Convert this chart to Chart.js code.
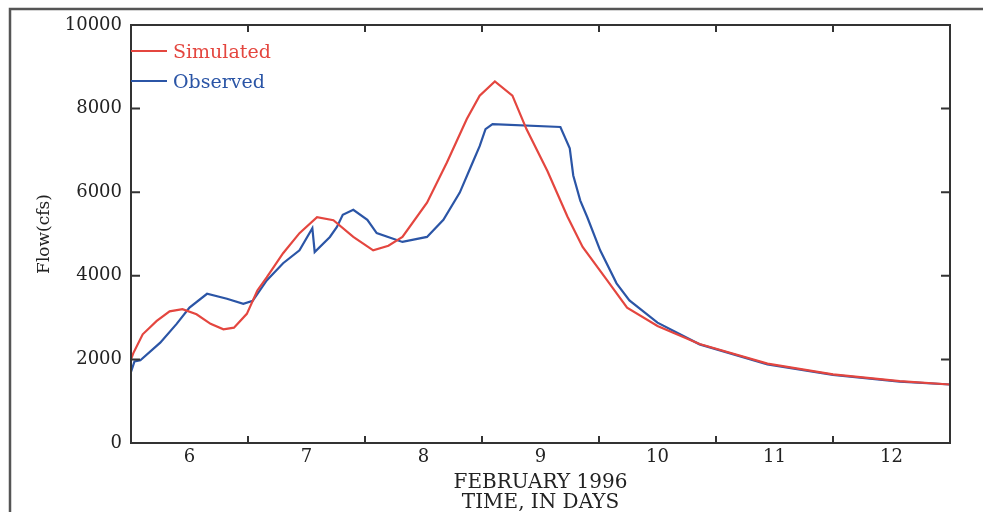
<!DOCTYPE html>
<html>
<head>
<meta charset="utf-8">
<script src="https://cdn.jsdelivr.net/npm/chart.js@4.4.1/dist/chart.umd.min.js"></script>
<style>
  body { margin: 0; background: #fff; }
  #wrap { width: 983px; height: 512px; position: relative; }
</style>
</head>
<body>
<div id="wrap"><canvas id="flowChart"></canvas></div>
<script>
// datos (dia de febrero 1996, caudal en cfs)
const simDays = [6.00, 6.02, 6.10, 6.22, 6.33, 6.44, 6.56, 6.68, 6.79, 6.88, 6.99, 7.08, 7.16, 7.30, 7.44, 7.59, 7.73, 7.90, 8.07, 8.20, 8.32, 8.53, 8.70, 8.87, 8.98, 9.11, 9.26, 9.38, 9.56, 9.73, 9.86, 10.07, 10.24, 10.50, 10.86, 11.44, 12.00, 12.57, 13.00]
const simFlow = [2000, 2150, 2600, 2920, 3150, 3200, 3080, 2850, 2720, 2760, 3090, 3650, 3960, 4540, 5020, 5400, 5330, 4930, 4610, 4720, 4930, 5750, 6710, 7750, 8310, 8650, 8310, 7510, 6500, 5420, 4690, 3890, 3240, 2800, 2370, 1900, 1640, 1480, 1400]

const obsDays = [6.00, 6.03, 6.08, 6.25, 6.39, 6.50, 6.65, 6.82, 6.96, 7.04, 7.16, 7.30, 7.44, 7.55, 7.57, 7.70, 7.76, 7.81, 7.90, 8.02, 8.10, 8.32, 8.53, 8.67, 8.81, 8.92, 8.98, 9.03, 9.09, 9.67, 9.75, 9.78, 9.84, 9.90, 10.01, 10.15, 10.26, 10.50, 10.86, 11.44, 12.00, 12.57, 13.00]
const obsFlow = [1700, 1950, 1980, 2400, 2850, 3240, 3570, 3450, 3330, 3400, 3890, 4300, 4610, 5140, 4570, 4930, 5170, 5460, 5580, 5340, 5020, 4810, 4930, 5340, 5990, 6710, 7100, 7510, 7630, 7560, 7050, 6400, 5800, 5400, 4610, 3820, 3410, 2880, 2360, 1880, 1630, 1470, 1400]

const xTickLabels = ['6', '7', '8', '9', '10', '11', '12']
const yTicks = [0, 2000, 4000, 6000, 8000, 10000]
const seriesNames = ['Simulated', 'Observed']
const seriesColors = ['#e4463f', '#2b55a6']

const FONT = "'DejaVu Serif', serif"
const INK = '#222'

// juntamos dias y caudales en puntos
function toPoints(days, flow) {
    let pts = []
    for (let i = 0; i < days.length; i++) {
        pts.push({ x: days[i], y: flow[i] })
    }
    return pts
}

// caja del grafico, marcas hacia adentro, leyenda y marco exterior
const framePlugin = {
    id: 'frame',
    afterDraw(chart) {
        const ctx = chart.ctx
        const a = chart.chartArea
        const xs = chart.scales.x, ys = chart.scales.y
        ctx.save()
        ctx.strokeStyle = '#333'
        ctx.lineWidth = 2
        ctx.strokeRect(a.left, a.top, a.right - a.left, a.bottom - a.top)

        ctx.beginPath()
        for (let d = 7; d <= 12; d++) {
            const px = xs.getPixelForValue(d)
            ctx.moveTo(px, a.bottom); ctx.lineTo(px, a.bottom - 7)
            ctx.moveTo(px, a.top); ctx.lineTo(px, a.top + 7)
        }
        for (let i = 1; i < yTicks.length - 1; i++) {
            const py = ys.getPixelForValue(yTicks[i])
            ctx.moveTo(a.left, py); ctx.lineTo(a.left + 9, py)
            ctx.moveTo(a.right, py); ctx.lineTo(a.right - 9, py)
        }
        ctx.stroke()

        // marco exterior
        ctx.strokeStyle = '#555'
        ctx.lineWidth = 2.5
        ctx.beginPath()
        ctx.moveTo(10, 512); ctx.lineTo(10, 9); ctx.lineTo(983, 9)
        ctx.stroke()

        // leyenda dentro del area
        ctx.font = '19px ' + FONT
        ctx.textBaseline = 'middle'
        const rows = [51, 81]
        chart.data.datasets.forEach(function (ds, i) {
            ctx.strokeStyle = ds.borderColor
            ctx.lineWidth = 2
            ctx.beginPath()
            ctx.moveTo(a.left, rows[i]); ctx.lineTo(a.left + 36, rows[i])
            ctx.stroke()
            ctx.fillStyle = ds.borderColor
            ctx.fillText(ds.label, a.left + 42, rows[i] + 2)
        })
        ctx.restore()
    }
}

const FLOW_CHART = document.getElementById('flowChart')

new Chart(FLOW_CHART, {
    type: 'line',
    data: {
        datasets: [{
            label: seriesNames[0],
            data: toPoints(simDays, simFlow),
            borderColor: seriesColors[0],
            borderWidth: 2.2,
            pointRadius: 0,
            tension: 0
        }, {
            label: seriesNames[1],
            data: toPoints(obsDays, obsFlow),
            borderColor: seriesColors[1],
            borderWidth: 2.2,
            pointRadius: 0,
            tension: 0
        }]
    },
    options: {
        responsive: true,
        maintainAspectRatio: false,
        animation: false,
        layout: { padding: { top: 25, right: 33, left: 0, bottom: 0 } },
        plugins: {
            legend: { display: false },
            tooltip: { enabled: false }
        },
        scales: {
            x: {
                type: 'linear',
                min: 6,
                max: 13,
                afterBuildTicks: function (scale) {
                    // etiquetas al mediodia de cada dia
                    scale.ticks = xTickLabels.map(function (t) { return { value: Number(t) + 0.5 } })
                },
                afterFit: function (scale) { scale.height = 69 },
                grid: { display: false, drawTicks: false },
                border: { display: false },
                ticks: {
                    color: INK,
                    font: { family: FONT, size: 18 },
                    padding: 4,
                    maxRotation: 0,
                    autoSkip: false,
                    callback: function (value) { return String(Math.floor(value)) }
                },
                title: {
                    display: true,
                    text: ['FEBRUARY 1996', 'TIME, IN DAYS'],
                    color: INK,
                    font: { family: FONT, size: 20, lineHeight: 1.0 },
                    padding: { top: 0, bottom: -1 }
                }
            },
            y: {
                min: 0,
                max: 10000,
                afterBuildTicks: function (scale) {
                    scale.ticks = yTicks.map(function (v) { return { value: v } })
                },
                afterFit: function (scale) { scale.width = 131 },
                grid: { display: false, drawTicks: false },
                border: { display: false },
                ticks: {
                    color: INK,
                    font: { family: FONT, size: 18 },
                    padding: 9,
                    callback: function (value) { return String(value) }
                },
                title: {
                    display: true,
                    text: 'Flow(cfs)',
                    color: INK,
                    font: { family: FONT, size: 17 },
                    padding: { top: 34, bottom: 0 }
                }
            }
        }
    },
    plugins: [framePlugin]
});
</script>
</body>
</html>
